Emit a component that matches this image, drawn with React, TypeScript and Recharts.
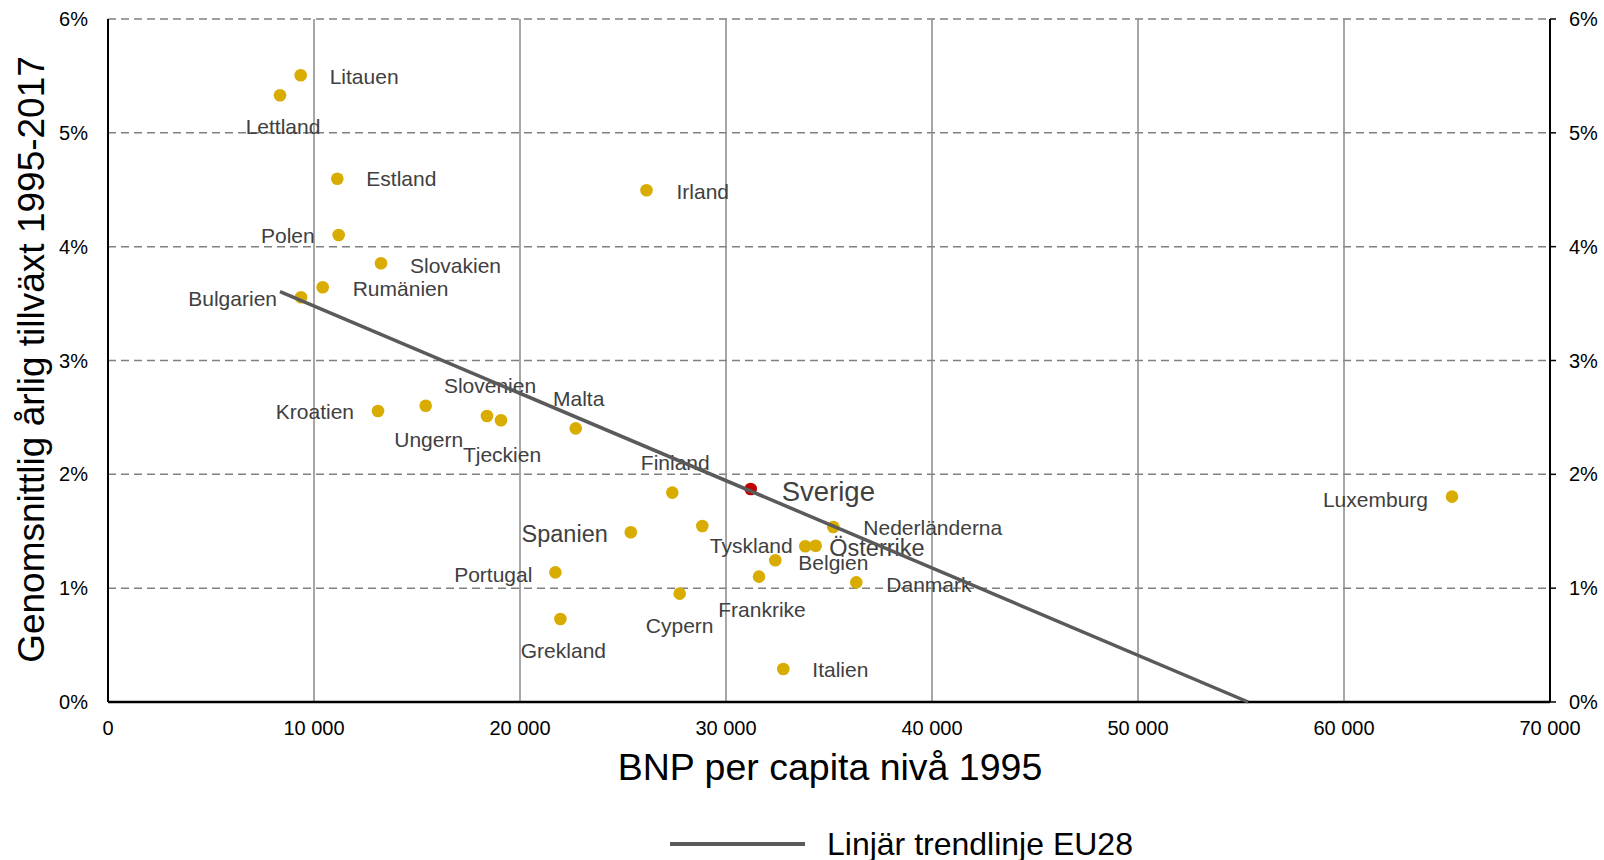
import { ScatterChart, Scatter, XAxis, YAxis, CartesianGrid, Legend } from "recharts";

// BNP per capita 1995 vs genomsnittlig årlig tillväxt 1995-2017, EU28
const countries = [
  "Litauen", "Lettland", "Estland", "Polen", "Slovakien", "Rumänien", "Bulgarien",
  "Irland", "Kroatien", "Ungern", "Slovenien", "Tjeckien", "Malta", "Finland",
  "Sverige", "Storbritannien", "Spanien", "Portugal", "Grekland", "Cypern",
  "Frankrike", "Belgien", "Österrike", "Tyskland", "Nederländerna", "Danmark",
  "Italien", "Luxemburg",
];
const gdp1995 = [
  9354, 8350, 11133, 11198, 13252, 10422, 9369,
  26141, 13107, 15422, 18398, 19078, 22704, 27393,
  31199, 28850, 25379, 21718, 21961, 27752,
  31602, 32393, 33850, 34354, 35209, 36325,
  32782, 65243,
];
const growth = [
  5.506, 5.33, 4.597, 4.103, 3.854, 3.643, 3.555,
  4.495, 2.556, 2.603, 2.513, 2.475, 2.404, 1.839,
  1.871, 1.546, 1.491, 1.139, 0.729, 0.952,
  1.101, 1.245, 1.368, 1.373, 1.537, 1.051,
  0.29, 1.804,
];
const trendGdp = [8350, 55350];
const trendGrowth = [3.605, 0];
const xTicks = [0, 10000, 20000, 30000, 40000, 50000, 60000, 70000];
const yTicks = [0, 1, 2, 3, 4, 5, 6];
const highlight = "Sverige";

const points = countries.map((name, i) => ({ name, gdp: gdp1995[i], growth: growth[i] }));
const trend = trendGdp.map((gdp, i) => ({ gdp, growth: trendGrowth[i] }));

// etikettplacering: [dx, dy, textAnchor]
const labelPlacement: Record<string, [number, number, "start" | "middle" | "end"]> = {
  Litauen: [29, 1, "start"],
  Lettland: [3, 31, "middle"],
  Estland: [29, 0, "start"],
  Polen: [-24, 1, "end"],
  Slovakien: [29, 2, "start"],
  "Rumänien": [30, 1, "start"],
  Bulgarien: [-24, 1, "end"],
  Irland: [30, 1, "start"],
  Kroatien: [-24, 1, "end"],
  Ungern: [3, 34, "middle"],
  Slovenien: [3, -30, "middle"],
  Tjeckien: [1, 34, "middle"],
  Malta: [3, -30, "middle"],
  Finland: [3, -30, "middle"],
  Sverige: [31, 2, "start"],
  Spanien: [-23, 2, "end"],
  Portugal: [-23, 2, "end"],
  Grekland: [3, 32, "middle"],
  Cypern: [0, 32, "middle"],
  Frankrike: [3, 33, "middle"],
  Belgien: [23, 2, "start"],
  "Österrike": [24, 1, "start"],
  Tyskland: [-23, 0, "end"],
  "Nederländerna": [30, 1, "start"],
  Danmark: [30, 2, "start"],
  Italien: [29, 1, "start"],
  Luxemburg: [-24, 3, "end"],
};
const labelSize: Record<string, number> = { Sverige: 27.5, Spanien: 23.5, "Österrike": 23.5 };

const FONT = '"Liberation Sans", Arial, sans-serif';
const GOLD = "#D8AC00";
const RED = "#C00000";
const TREND = "#5A5A5A";

const fmtThousands = (v: number) => String(v).replace(/\B(?=(\d{3})+(?!\d))/g, " ");

function CountryDot(props: any) {
  const { cx, cy, payload } = props;
  const lp = labelPlacement[payload.name];
  return (
    <g>
      <circle cx={cx} cy={cy} r={6.3} fill={payload.name === highlight ? RED : GOLD} />
      {lp && (
        <text
          x={cx + lp[0]}
          y={cy + lp[1]}
          dy="0.35em"
          textAnchor={lp[2]}
          fontSize={labelSize[payload.name] ?? 21}
          fontFamily={FONT}
          fill="#404040"
        >
          {payload.name}
        </text>
      )}
    </g>
  );
}

function LegendBox() {
  return (
    <div style={{ position: "relative", height: 38, width: 1604, fontFamily: FONT }}>
      <div style={{ position: "absolute", left: 670, top: 20, width: 135, height: 4, background: TREND }} />
      <div style={{ position: "absolute", left: 827, top: 4, fontSize: 32, lineHeight: "36px", color: "#000", whiteSpace: "nowrap" }}>
        Linjär trendlinje EU28
      </div>
    </div>
  );
}

export default function App() {
  return (
    <div style={{ position: "absolute", left: 0, top: 0, width: 1604, height: 860, background: "#fff", fontFamily: FONT }}>
      <ScatterChart width={1604} height={860} margin={{ top: 19, right: 0, bottom: 0, left: 0 }}>
        <CartesianGrid yAxisId="left" vertical={false} stroke="#808080" strokeWidth={1.5} strokeDasharray="8 5" />
        <CartesianGrid yAxisId="left" horizontal={false} stroke="#8a8a8a" strokeWidth={1.5} />
        <XAxis
          type="number"
          dataKey="gdp"
          domain={[0, 70000]}
          ticks={xTicks}
          tickFormatter={fmtThousands}
          tickSize={0}
          tickMargin={19}
          tickLine={false}
          height={120}
          axisLine={{ stroke: "#000", strokeWidth: 2.5 }}
          tick={{ fontSize: 20, fill: "#000", fontFamily: FONT }}
          interval={0}
          label={{
            content: (p: any) => {
              const vb = p.viewBox || {};
              return (
                <text x={vb.x + vb.width / 2 + 1} y={vb.y + 78} textAnchor="middle" fontSize={37.5} fontFamily={FONT} fill="#000">
                  BNP per capita nivå 1995
                </text>
              );
            },
          }}
        />
        <YAxis
          yAxisId="left"
          type="number"
          dataKey="growth"
          domain={[0, 6]}
          ticks={yTicks}
          tickFormatter={(v) => `${v}%`}
          width={108}
          tickSize={0}
          tickMargin={20}
          tickLine={false}
          interval={0}
          axisLine={{ stroke: "#000", strokeWidth: 2 }}
          tick={{ fontSize: 20, fill: "#000", fontFamily: FONT }}
          label={{
            content: (p: any) => {
              const vb = p.viewBox || {};
              const cx = vb.x + 44;
              const cy = vb.y + vb.height / 2 - 1;
              return (
                <text
                  x={cx}
                  y={cy}
                  textAnchor="middle"
                  fontSize={37}
                  fontFamily={FONT}
                  fill="#000"
                  transform={`rotate(-90 ${cx} ${cy})`}
                >
                  Genomsnittlig årlig tillväxt 1995-2017
                </text>
              );
            },
          }}
        />
        <YAxis
          yAxisId="right"
          orientation="right"
          type="number"
          dataKey="growth"
          domain={[0, 6]}
          ticks={yTicks}
          tickFormatter={(v) => `${v}%`}
          width={54}
          tickSize={6}
          tickMargin={13}
          interval={0}
          axisLine={{ stroke: "#000", strokeWidth: 2 }}
          tickLine={{ stroke: "#000", strokeWidth: 1.5 }}
          tick={{ fontSize: 20, fill: "#000", fontFamily: FONT }}
        />
        <Scatter yAxisId="left" data={points} shape={CountryDot} isAnimationActive={false} legendType="none" />
        <Scatter
          yAxisId="left"
          data={trend}
          line={{ stroke: TREND, strokeWidth: 3.5 }}
          lineType="joint"
          shape={() => <g />}
          isAnimationActive={false}
          legendType="none"
        />
        {/* osynlig serie så att den högra axeln ritas */}
        <Scatter
          yAxisId="right"
          data={trend}
          shape={() => <g />}
          isAnimationActive={false}
          legendType="none"
        />
        <Legend verticalAlign="bottom" content={() => <LegendBox />} />
      </ScatterChart>
    </div>
  );
}
